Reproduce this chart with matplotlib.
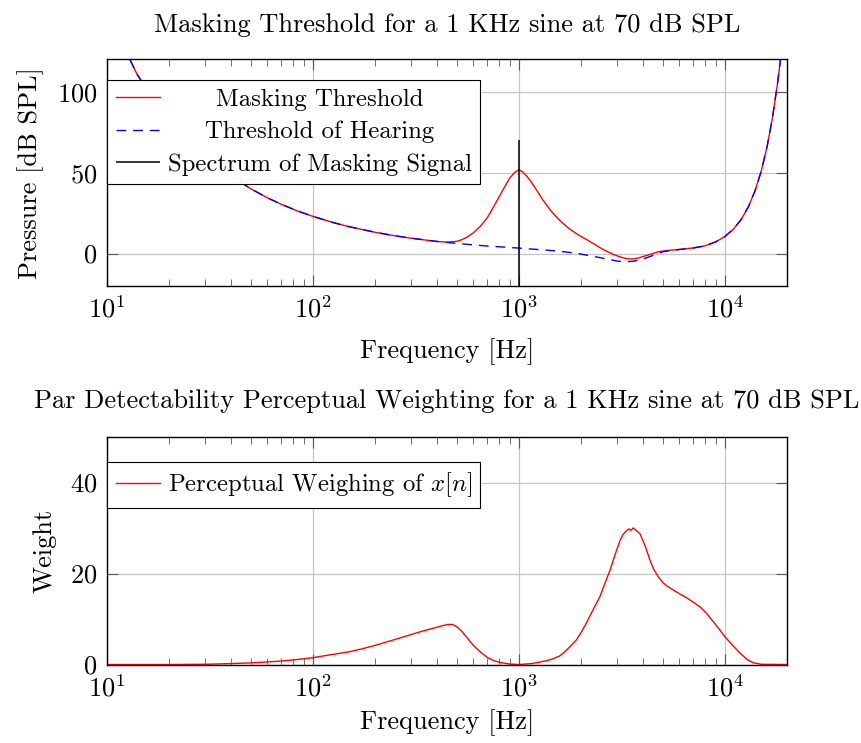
import numpy as np
import matplotlib
matplotlib.use("Agg")
import matplotlib.pyplot as plt
from matplotlib.ticker import LogLocator, NullFormatter

# threshold of hearing (Hz, dB SPL)
thr_freq = [12.9, 14, 16, 18, 20, 25, 30, 40, 50, 60, 70, 85, 100, 125, 150, 200,
            250, 300, 400, 500, 600, 700, 850, 1000, 1250, 1500, 1750, 2000, 2500,
            3000, 3300, 3600, 4000, 4500, 5000, 6000, 7000, 8000, 9000, 10000,
            11000, 12000, 13000, 14000, 15000, 16000, 17000, 18000, 18700]
thr_db = [120, 110.7, 99.5, 90.6, 83.3, 69.6, 60.2, 47.8, 40.0, 34.5, 30.5, 26.1,
          23.0, 19.2, 16.6, 13.2, 11.0, 9.5, 7.5, 6.3, 5.4, 4.7, 4.0, 3.4, 2.5, 1.7,
          0.8, -0.3, -2.6, -4.6, -5.0, -4.7, -3.4, -1.0, 1.2, 2.5, 3.4, 4.8, 7.2,
          10.6, 15.2, 21.2, 29.0, 38.9, 51.0, 65.9, 83.9, 105.3, 122.6]

# masking threshold (Hz, dB SPL)
mask_freq = [12.9, 14, 16, 18, 20, 25, 30, 40, 50, 60, 70, 85, 100, 125, 150, 200,
             250, 300, 400, 450, 500, 525, 560, 600, 650, 700, 750, 800, 850, 900,
             950, 1000, 1040, 1090, 1150, 1200, 1250, 1300, 1380, 1460, 1530, 1600,
             1680, 1760, 1850, 1950, 2040, 2130, 2240, 2350, 2450, 2560, 2680, 2800,
             2940, 3090, 3250, 3450, 3620, 3800, 4050, 4300, 4700, 5200, 6000, 7000,
             8000, 9000, 10000, 11000, 12000, 13000, 14000, 15000, 16000, 17000,
             18000, 18700]
mask_db = [120, 110.7, 99.5, 90.6, 83.3, 69.6, 60.2, 47.8, 40.0, 34.5, 30.5, 26.1,
           23.0, 19.2, 16.6, 13.2, 11.0, 9.5, 7.5, 7.1, 7.6, 8.5, 10.2, 12.8, 17.0,
           22.0, 28.5, 35.0, 41.0, 46.5, 50.0, 51.8, 50.5, 48.0, 44.0, 40.5, 37.0,
           33.5, 29.0, 25.0, 22.2, 19.8, 17.4, 15.3, 13.3, 11.4, 10.0, 8.7, 7.0, 5.5,
           4.0, 2.6, 1.3, 0.2, -1.0, -2.0, -2.8, -3.3, -3.3, -2.7, -1.6, -0.6, 1.0,
           1.9, 2.6, 3.5, 4.8, 7.2, 10.6, 15.2, 21.2, 29.0, 38.9, 51.0, 65.9, 83.9,
           105.3, 122.6]

masker_freq = 1000
masker_level = 70

# perceptual weighting
pw_freq = [10, 20, 30, 40, 50, 67, 80, 100, 120, 150, 175, 200, 250, 300, 350, 400,
           430, 455, 475, 500, 525, 555, 590, 620, 660, 700, 750, 810, 900, 1000,
           1150, 1350, 1450, 1580, 1650, 1730, 1800, 1900, 2000, 2100, 2200, 2330,
           2470, 2600, 2760, 2920, 3090, 3200, 3330, 3420, 3500, 3580, 3700, 3870,
           4100, 4320, 4500, 4740, 5000, 5210, 5600, 6040, 6500, 7020, 7600, 8150,
           9000, 10000, 10900, 11830, 12800, 13700, 15000, 20000]
pw = [0, 0, 0.05, 0.2, 0.35, 0.7, 1.0, 1.5, 2.1, 2.8, 3.5, 4.2, 5.5, 6.6, 7.5, 8.2,
      8.6, 8.8, 8.8, 8.3, 7.4, 6.1, 4.6, 3.6, 2.5, 1.6, 0.9, 0.45, 0.1, 0.0,
      0.2, 0.8, 1.2, 1.9, 2.6, 3.5, 4.3, 5.4, 7.0, 8.7, 10.5, 12.7,
      14.9, 17.6, 20.6, 24.0, 27.2, 28.6, 29.4, 29.8, 29.5, 30.0, 29.5, 28.7,
      26.0, 23.0, 21.0, 19.3, 18.0, 17.3, 16.4, 15.5, 14.7, 13.7, 12.6, 11.2,
      8.8, 6.1, 4.2, 2.5, 1.1, 0.4, 0.05, 0]

plt.rcParams['font.family'] = 'cmr10'
plt.rcParams['mathtext.fontset'] = 'cm'
plt.rcParams['axes.formatter.use_mathtext'] = True
plt.rcParams['font.size'] = 19

W, H = 861, 743
fig = plt.figure(figsize=(W / 100, H / 100), dpi=100)
ax1 = fig.add_axes([107 / W, 1 - 286 / H, 680 / W, 226.7 / H])
ax2 = fig.add_axes([107 / W, 1 - 664.5 / H, 680 / W, 227.5 / H])


def style(ax, xpad):
    ax.set_xscale('log')
    ax.set_xlim(10, 20000)
    ax.grid(True, which='major', color='#c4c4c4', lw=0.9)
    ax.set_axisbelow(True)
    ax.tick_params(which='both', direction='in', top=True, right=True, color='0.35')
    ax.tick_params(which='major', length=8, width=0.8, pad=7)
    ax.tick_params(which='minor', length=5, width=0.6)
    ax.xaxis.set_major_locator(LogLocator(base=10))
    ax.xaxis.set_minor_locator(LogLocator(base=10, subs=np.arange(2, 10)))
    ax.xaxis.set_minor_formatter(NullFormatter())
    for s in ax.spines.values():
        s.set_linewidth(1.0)
    ax.set_xlabel('Frequency [Hz]', labelpad=xpad)


def center_legend_text(leg):
    fig.canvas.draw()
    texts = leg.get_texts()
    widths = [t.get_window_extent().width for t in texts]
    for t, w in zip(texts, widths):
        t.set_x((max(widths) - w) / 2)


# top plot
style(ax1, 11)
ax1.plot(mask_freq, mask_db, color='red', lw=1.0, label='Masking Threshold')
ax1.plot(thr_freq, thr_db, color='blue', lw=1.0, linestyle=(0, (7, 5)),
         label='Threshold of Hearing')
ax1.set_ylim(-20, 120)
ax1.vlines(masker_freq, ax1.get_ylim()[0], masker_level, color='black', lw=1.1,
           label='Spectrum of Masking Signal')
ax1.set_yticks([0, 50, 100])
ax1.set_ylabel('Pressure [dB SPL]', labelpad=9)
ax1.set_title('Masking Threshold for a 1 KHz sine at 70 dB SPL', pad=20, fontsize=19)
leg1 = ax1.legend(loc='upper left', bbox_to_anchor=(0, 0.909), borderaxespad=0,
                  fancybox=False, edgecolor='black', framealpha=1, fontsize=17.8,
                  handlelength=1.8, handletextpad=0.3, borderpad=0.35,
                  labelspacing=0.4)
leg1.get_frame().set_linewidth(0.8)

# bottom plot
style(ax2, 6)
ax2.plot(pw_freq, pw, color='red', lw=1.0, label='Perceptual Weighing of $x[n]$')
ax2.set_ylim(0, 50)
ax2.set_yticks([0, 20, 40])
ax2.set_ylabel('Weight', labelpad=10)
ax2.set_title('Par Detectability Perceptual Weighting for a 1 KHz sine at 70 dB SPL',
              pad=21, fontsize=19)
leg2 = ax2.legend(loc='upper left', bbox_to_anchor=(0, 0.891), borderaxespad=0,
                  fancybox=False, edgecolor='black', framealpha=1, fontsize=17.8,
                  handlelength=1.8, handletextpad=0.3, borderpad=0.35)
leg2.get_frame().set_linewidth(0.8)

center_legend_text(leg1)

fig.savefig('out.png', dpi=100)
